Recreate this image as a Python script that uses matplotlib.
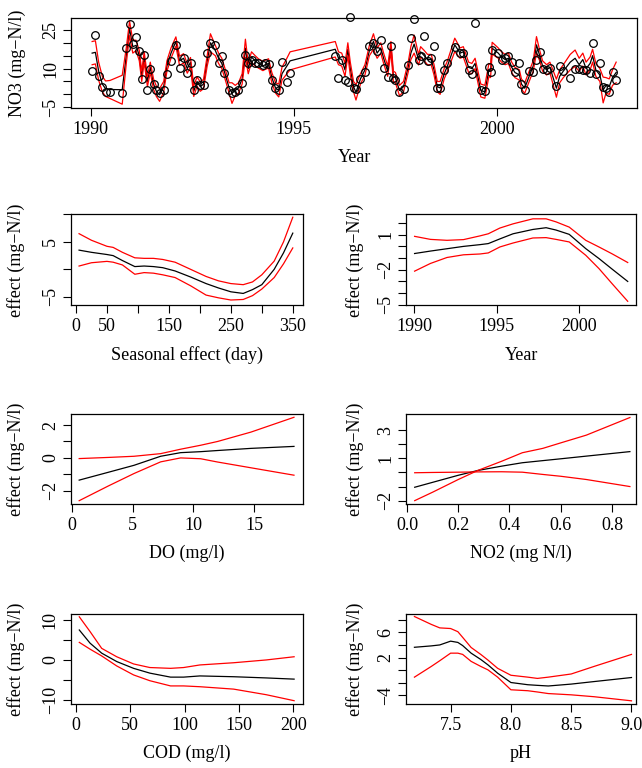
import matplotlib
matplotlib.use('Agg')
import matplotlib.pyplot as plt
import numpy as np

plt.rcParams['font.family'] = ['Liberation Serif', 'DejaVu Serif']
plt.rcParams['font.size'] = 13
plt.rcParams['axes.linewidth'] = 0.9

# ---- top panel: NO3 time series (observed, fit, half-width of band)
year = [1990.04, 1990.12, 1990.20, 1990.29, 1990.37, 1990.48, 1990.78, 1990.88, 1990.96,
        1991.04, 1991.12, 1991.20, 1991.26, 1991.32, 1991.40, 1991.47, 1991.55, 1991.62,
        1991.70, 1991.80, 1991.88, 1991.98, 1992.10, 1992.19, 1992.29, 1992.38, 1992.46,
        1992.54, 1992.62, 1992.70, 1992.78, 1992.87, 1992.95, 1993.07, 1993.15, 1993.23,
        1993.29, 1993.41, 1993.48, 1993.56, 1993.64, 1993.73, 1993.81, 1993.88, 1993.96,
        1994.05, 1994.13, 1994.24, 1994.30, 1994.38, 1994.46, 1994.55, 1994.63, 1994.71,
        1994.83, 1994.91, 1996.02, 1996.10, 1996.18, 1996.26, 1996.33, 1996.39, 1996.47,
        1996.53, 1996.64, 1996.75, 1996.86, 1996.96, 1997.05, 1997.14, 1997.21, 1997.31,
        1997.39, 1997.45, 1997.50, 1997.60, 1997.70, 1997.82, 1997.88, 1997.96, 1998.07,
        1998.12, 1998.21, 1998.29, 1998.38, 1998.45, 1998.53, 1998.60, 1998.70, 1998.78,
        1998.96, 1999.09, 1999.17, 1999.30, 1999.38, 1999.46, 1999.60, 1999.70, 1999.80,
        1999.84, 1999.88, 2000.03, 2000.11, 2000.20, 2000.28, 2000.36, 2000.44, 2000.55,
        2000.60, 2000.68, 2000.79, 2000.89, 2000.97, 2001.05, 2001.12, 2001.22, 2001.30,
        2001.46, 2001.54, 2001.63, 2001.80, 2001.92, 2002.02, 2002.11, 2002.19, 2002.29,
        2002.35, 2002.43, 2002.53, 2002.61, 2002.68, 2002.76, 2002.84, 2002.93]
no3_obs = [9.2, 23.1, 7.1, 3.0, 0.8, 0.8, 0.4, 18.1, 27.3,
           19.5, 22.4, 17.0, 6.0, 15.3, 1.7, 10.0, 4.0, 1.7,
           0.4, 1.7, 7.8, 13.0, 19.2, 10.1, 14.0, 8.4, 12.3,
           1.7, 5.6, 3.7, 3.7, 16.0, 19.8, 19.2, 12.3, 14.7,
           8.2, 1.7, 0.4, 1.0, 1.7, 4.3, 15.3, 12.0, 13.4,
           12.0, 12.3, 11.4, 12.0, 11.8, 5.6, 2.4, 1.7, 12.7,
           4.9, 8.4, 14.7, 6.2, 13.4, 5.4, 4.9, 29.9, 2.4,
           2.1, 6.0, 8.8, 18.9, 19.8, 17.0, 21.1, 10.1, 6.9,
           18.8, 6.2, 5.6, 1.1, 2.1, 11.4, 21.8, 29.1, 13.4,
           15.0, 22.7, 13.1, 14.0, 18.9, 2.4, 2.4, 9.5, 12.1,
           18.5, 16.0, 16.0, 9.5, 8.0, 27.6, 1.7, 1.4, 10.8,
           8.8, 17.2, 15.9, 13.4, 14.0, 14.7, 12.7, 8.8, 12.1,
           4.0, 1.7, 9.1, 8.8, 13.4, 16.6, 9.7, 9.5, 10.1,
           3.3, 11.0, 9.0, 6.2, 9.7, 9.7, 9.5, 9.5, 8.2,
           19.8, 8.0, 12.1, 2.8, 2.4, 1.1, 8.8, 5.6]
no3_fit = [16.0, 16.3, 9.0, 4.0, 2.2, 1.9, 1.8, 15.0, 25.6,
           18.5, 19.0, 15.0, 7.0, 14.5, 5.0, 10.5, 4.0, 1.2,
           -0.2, 3.0, 11.0, 16.0, 20.5, 13.0, 14.0, 10.0, 12.5,
           1.2, 5.0, 3.0, 4.0, 13.0, 20.0, 17.0, 14.0, 12.0,
           9.0, 2.5, 0.5, 1.5, 2.5, 6.0, 17.9, 10.0, 14.5,
           13.0, 12.0, 11.0, 11.5, 12.0, 6.5, 2.5, 1.5, 8.0,
           11.0, 13.0, 17.5, 14.0, 13.5, 9.5, 17.5, 10.0, 3.0,
           0.8, 6.0, 9.5, 17.0, 20.5, 16.0, 18.0, 14.0, 9.0,
           18.5, 7.0, 6.5, 1.5, 3.0, 11.0, 16.0, 19.5, 13.4,
           16.5, 15.0, 13.5, 13.5, 9.5, 3.0, 2.5, 8.0, 11.0,
           19.2, 16.0, 16.5, 10.5, 10.0, 12.0, 1.5, 1.0, 9.5,
           9.0, 17.9, 16.0, 14.5, 13.5, 14.0, 10.5, 8.5, 7.5,
           4.0, 2.4, 7.0, 11.0, 19.2, 15.0, 11.0, 9.5, 10.5,
           2.4, 7.0, 9.0, 12.5, 14.0, 11.5, 13.5, 10.0, 12.0,
           15.0, 9.5, 7.5, 1.7, 3.5, 3.0, 6.5, 8.5]
no3_halfw = [4.5, 4.5, 3.5, 3.0, 3.0, 3.5, 5.6, 3.0, 2.8,
             2.5, 2.0, 2.0, 2.0, 2.0, 2.0, 2.0, 2.0, 2.0,
             2.5, 2.0, 2.0, 2.0, 1.8, 1.8, 1.8, 1.8, 1.8,
             2.0, 1.8, 1.8, 1.8, 2.0, 3.5, 2.0, 2.0, 2.0,
             2.0, 2.0, 4.0, 2.0, 2.0, 2.0, 3.5, 2.0, 2.0,
             2.0, 1.8, 1.8, 1.8, 1.8, 2.0, 2.0, 2.5, 2.5,
             3.0, 3.5, 3.0, 2.5, 2.5, 2.5, 2.5, 2.5, 2.0,
             3.0, 2.0, 2.0, 2.0, 3.0, 2.0, 2.0, 2.0, 2.0,
             2.0, 2.0, 2.0, 2.0, 2.0, 2.0, 2.5, 3.5, 2.0,
             2.0, 2.0, 2.0, 2.0, 2.0, 2.0, 2.5, 2.0, 2.0,
             2.6, 2.0, 2.0, 2.0, 2.0, 2.0, 2.5, 2.5, 2.5,
             2.5, 2.3, 2.0, 2.0, 2.0, 2.0, 2.0, 2.0, 2.0,
             2.0, 2.0, 2.0, 2.0, 3.2, 2.0, 2.0, 2.0, 2.0,
             3.5, 2.5, 2.5, 3.0, 3.2, 2.5, 2.5, 2.5, 2.5,
             2.5, 2.5, 2.5, 5.0, 3.0, 3.0, 3.0, 4.0]

# ---- smooth effects (x, fit, band line a, band line b)
season_day = [5, 25, 50, 60, 75, 95, 110, 125, 140, 160, 185, 210, 230, 250, 270, 285, 300, 320, 335, 350]
season_fit = [3.5, 3.1, 2.7, 2.5, 1.6, 0.5, 0.6, 0.5, 0.3, -0.3, -1.4, -2.6, -3.4, -4.1, -4.4, -3.7, -2.8, 0.0, 3.0, 6.6]
season_up = [6.5, 5.3, 4.2, 4.0, 3.1, 2.1, 2.0, 2.0, 1.8, 1.3, 0.0, -1.3, -2.1, -2.6, -2.8, -2.3, -1.0, 1.5, 5.0, 9.5]
season_lo = [0.6, 1.2, 1.45, 1.3, 0.8, -0.9, -0.6, -0.7, -1.0, -1.5, -3.0, -4.7, -5.2, -5.6, -5.5, -4.8, -3.6, -1.5, 1.0, 3.9]

trend_year = [1990.04, 1991, 1992, 1993, 1994, 1994.5, 1995.2, 1996, 1997.2, 1998, 1998.6, 1999.4, 2000.4, 2001.2, 2002, 2002.94]
trend_fit = [-0.61, -0.4, -0.2, 0.0, 0.15, 0.24, 0.64, 1.08, 1.45, 1.6, 1.4, 1.03, -0.19, -1.04, -1.95, -3.0]
trend_up = [0.86, 0.6, 0.52, 0.58, 0.9, 1.08, 1.57, 1.93, 2.36, 2.36, 2.1, 1.65, 0.52, -0.05, -0.64, -1.38]
trend_lo = [-2.12, -1.46, -0.95, -0.72, -0.65, -0.56, -0.05, 0.29, 0.72, 0.75, 0.6, 0.38, -0.76, -1.9, -3.2, -4.7]

do_x = [0.58, 3, 5.1, 7.3, 8.95, 10.6, 12, 14.75, 18.3]
do_fit = [-1.35, -0.87, -0.45, 0.1, 0.32, 0.38, 0.45, 0.58, 0.7]
do_a = [-0.04, 0.03, 0.1, 0.26, 0.53, 0.77, 1.0, 1.57, 2.47]
do_b = [-2.6, -1.7, -0.95, -0.24, 0.0, -0.05, -0.25, -0.6, -1.05]

no2_x = [0.03, 0.1, 0.2, 0.276, 0.37, 0.45, 0.53, 0.6, 0.7, 0.87]
no2_fit = [-1.05, -0.7, -0.2, 0.14, 0.45, 0.69, 0.84, 0.97, 1.16, 1.48]
no2_a = [-2.0, -1.4, -0.5, 0.14, 0.8, 1.4, 1.71, 2.1, 2.65, 3.9]
no2_b = [-0.02, 0.0, 0.02, 0.04, 0.05, 0.02, -0.14, -0.27, -0.5, -1.0]

cod_x = [3.1, 13, 23.7, 37.5, 53, 68, 87, 99, 114, 145, 175, 200.6]
cod_fit = [7.5, 4.2, 1.7, -0.4, -2.1, -3.3, -4.3, -4.3, -4.0, -4.2, -4.5, -4.8]
cod_up = [10.8, 7.1, 2.9, 0.8, -1.0, -1.9, -2.1, -1.9, -1.25, -0.7, 0.0, 0.8]
cod_lo = [4.4, 2.7, 1.0, -1.5, -3.75, -5.2, -6.5, -6.5, -6.7, -7.3, -8.7, -10.2]

ph_x = [7.2, 7.34, 7.41, 7.5, 7.56, 7.6, 7.67, 7.75, 7.81, 7.89, 8.0, 8.14, 8.22, 8.31, 8.5, 8.69, 9.0]
ph_fit = [3.63, 3.85, 4.0, 4.6, 4.4, 3.9, 2.7, 1.7, 0.84, -0.47, -1.95, -2.3, -2.4, -2.5, -2.2, -1.8, -1.16]
ph_up = [8.5, 7.25, 6.7, 6.6, 6.1, 5.2, 3.6, 2.5, 1.6, 0.3, -0.8, -1.1, -1.3, -1.1, -0.6, 0.6, 2.5]
ph_lo = [-1.1, 0.6, 1.5, 2.7, 2.7, 2.5, 1.4, 0.6, 0.05, -1.1, -3.1, -3.25, -3.45, -3.7, -3.9, -4.2, -4.85]

EFF = 'effect (mg\u2212N/l)'
W, H = 642, 768
fig = plt.figure(figsize=(W / 100, H / 100), dpi=100)


def panel(l, t, r, b):
    return fig.add_axes([l / W, 1 - b / H, (r - l) / W, (b - t) / H])


def fmt(v):
    s = ('%g' % v) if v != int(v) else str(int(v))
    return s.replace('-', '\u2212')


def style(ax, xt, xlab, yt, ylab, xlabel, ylabel, xl_y, yl_x, xfmt=None):
    ax.set_xticks(xt, [(xfmt(v) if xfmt else fmt(v)) if v in xlab else '' for v in xt])
    ax.set_yticks(yt, [fmt(v) if v in ylab else '' for v in yt], rotation=90, va='center')
    ax.tick_params(direction='out', length=6, width=0.8, colors='k')
    ax.tick_params(axis='x', pad=3)
    ax.tick_params(axis='y', pad=2.5)
    ax.set_xlabel(xlabel)
    ax.set_ylabel(ylabel)
    ax.xaxis.set_label_coords(0.5, xl_y)
    ax.xaxis.label.set_va('center')
    ax.yaxis.set_label_coords(yl_x, 0.5)
    ax.yaxis.label.set_va('center')


def effect(ax, x, fit, a, b):
    ax.plot(x, fit, color='black', lw=0.9)
    ax.plot(x, a, color='red', lw=0.9)
    ax.plot(x, b, color='red', lw=0.9)


# top panel
ax = panel(71, 18.3, 637.3, 108.3)
fit = np.array(no3_fit)
hw = np.array(no3_halfw)
ax.plot(year, fit, color='black', lw=0.9)
ax.plot(year, fit + hw, color='red', lw=0.9)
ax.plot(year, fit - hw, color='red', lw=0.9)
ax.plot(year, no3_obs, 'o', mfc='none', mec='black', ms=5.5, mew=0.9, clip_on=False)
ax.set_xlim(1989.52, 2003.45)
ax.set_ylim(-5.4, 29.5)
style(ax, [1990, 1995, 2000], [1990, 1995, 2000], [-5, 0, 5, 10, 15, 20, 25], [25, 10, -5],
      'Year', 'NO3 (mg\u2212N/l)', -0.552, -0.095)

# seasonal
ax = panel(70.7, 214.5, 302.7, 305.5)
effect(ax, season_day, season_fit, season_up, season_lo)
ax.set_xlim(-8.5, 366)
ax.set_ylim(-6.6, 10.0)
style(ax, [0, 50, 100, 150, 200, 250, 300, 350], [0, 50, 150, 250, 350], [-5, 0, 5, 10], [5, -5],
      'Seasonal effect (day)', EFF, -0.544, -0.236)

# year trend
ax = panel(406, 214.5, 636.3, 305.5)
effect(ax, trend_year, trend_fit, trend_up, trend_lo)
ax.set_xlim(1989.52, 2003.46)
ax.set_ylim(-5.06, 2.73)
style(ax, [1990, 1995, 2000], [1990, 1995, 2000], [-5, -4, -3, -2, -1, 0, 1, 2], [1, -2, -5],
      'Year', EFF, -0.544, -0.221)

# DO
ax = panel(70.7, 414, 302.7, 504.3)
effect(ax, do_x, do_fit, do_a, do_b)
ax.set_xlim(-0.12, 19.02)
ax.set_ylim(-2.82, 2.67)
style(ax, [0, 5, 10, 15], [0, 5, 10, 15], [-2, -1, 0, 1, 2], [2, 0, -2],
      'DO (mg/l)', EFF, -0.544, -0.236)

# NO2
ax = panel(406, 414, 636.3, 504.3)
effect(ax, no2_x, no2_fit, no2_a, no2_b)
ax.set_xlim(-0.004, 0.895)
ax.set_ylim(-2.26, 4.15)
style(ax, [0.0, 0.2, 0.4, 0.6, 0.8], [0.0, 0.2, 0.4, 0.6, 0.8], [-2, -1, 0, 1, 2, 3], [3, 1, -2],
      'NO2 (mg N/l)', EFF, -0.544, -0.221, xfmt=lambda v: '%.1f' % v)

# COD
ax = panel(70.7, 614, 302.7, 704.3)
effect(ax, cod_x, cod_fit, cod_up, cod_lo)
ax.set_xlim(-4.8, 208.5)
ax.set_ylim(-11.1, 11.5)
style(ax, [0, 50, 100, 150, 200], [0, 50, 100, 150, 200], [-10, -5, 0, 5, 10], [10, 0, -10],
      'COD (mg/l)', EFF, -0.544, -0.236)

# pH
ax = panel(406, 614, 636.3, 704.3)
effect(ax, ph_x, ph_fit, ph_up, ph_lo)
ax.set_xlim(7.13, 9.04)
ax.set_ylim(-5.4, 8.9)
style(ax, [7.5, 8.0, 8.5, 9.0], [7.5, 8.0, 8.5, 9.0], [-4, -2, 0, 2, 4, 6, 8], [6, 2, -4],
      'pH', EFF, -0.544, -0.221, xfmt=lambda v: '%.1f' % v)

fig.savefig('out.png', dpi=100, facecolor='white')
